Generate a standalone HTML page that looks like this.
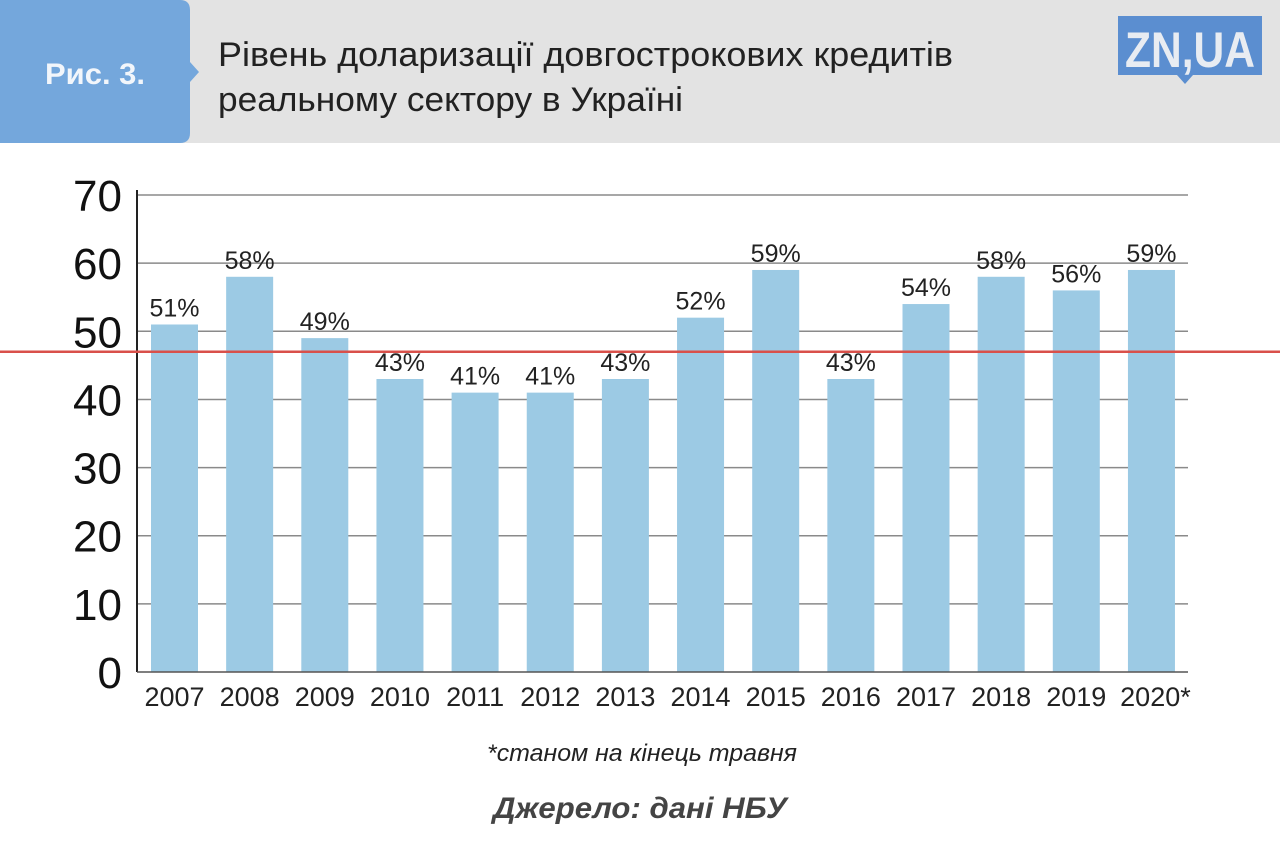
<!DOCTYPE html>
<html><head><meta charset="utf-8"><style>
body{margin:0;width:1280px;height:841px;background:#fff;overflow:hidden;font-family:"Liberation Sans","DejaVu Sans",sans-serif}
</style></head><body>
<svg width="1280" height="841" viewBox="0 0 1280 841" xmlns="http://www.w3.org/2000/svg">
<rect x="0" y="0" width="1280" height="143" fill="#e3e3e3"/>
<g>
<path d="M0 0 H180 Q190 0 190 10 V62 L199 72 L190 82 V133 Q190 143 180 143 H0 Z" fill="#74a7dc"/>
<text x="95" y="84" text-anchor="middle" font-size="30" font-weight="bold" fill="#f2f6fb" textLength="100" lengthAdjust="spacingAndGlyphs">Рис. 3.</text>
</g>
<g font-size="34" fill="#222">
<text x="218" y="66" textLength="735" lengthAdjust="spacingAndGlyphs">Рівень доларизації довгострокових кредитів</text>
<text x="218" y="111" textLength="465" lengthAdjust="spacingAndGlyphs">реальному сектору в Україні</text>
</g>
<g>
<rect x="1118" y="16" width="144" height="59" fill="#5b8ed0"/>
<path d="M1177 75 L1185 84 L1193 75 Z" fill="#5b8ed0"/>
<text x="1190" y="67" text-anchor="middle" font-size="50" font-weight="bold" fill="#e8ecf2" textLength="130" lengthAdjust="spacingAndGlyphs">ZN,UA</text>
</g>
<g id="grid"></g>
<g id="bars"></g>
<line x1="137" y1="190" x2="137" y2="672" stroke="#222" stroke-width="2"/>
<line x1="137" y1="672" x2="1188" y2="672" stroke="#555" stroke-width="1.5"/>
<line id="ref" x1="0" x2="1280" stroke="#d9504a" stroke-width="2.5"/>
<text x="642" y="761" text-anchor="middle" font-size="24" font-style="italic" fill="#222" textLength="310" lengthAdjust="spacingAndGlyphs">*станом на кінець травня</text>
<text x="640" y="818" text-anchor="middle" font-size="30" font-style="italic" font-weight="bold" fill="#444" textLength="294" lengthAdjust="spacingAndGlyphs">Джерело: дані НБУ</text>
</svg>
<script>
const categories=["2007","2008","2009","2010","2011","2012","2013","2014","2015","2016","2017","2018","2019","2020*"];
const values=[51,58,49,43,41,41,43,52,59,43,54,58,56,59];
const yTicks=[0,10,20,30,40,50,60,70];
const refValue=47;
const NS="http://www.w3.org/2000/svg";
const y=v=>672-v*6.814;
const x=i=>174.5+i*75.15;
const grid=document.getElementById('grid'),bars=document.getElementById('bars');
function mk(tag,attrs,parent,txt){const e=document.createElementNS(NS,tag);for(const k in attrs)e.setAttribute(k,attrs[k]);if(txt!==undefined)e.textContent=txt;parent.appendChild(e);return e;}
yTicks.forEach(t=>{
 if(t>0){const l=mk('line',{x1:137,x2:1188,y1:y(t),y2:y(t),stroke:'#8a8a8a','stroke-width':1.5},grid);
 
 }
 const tx=mk('text',{x:122,y:y(t)+16,'text-anchor':'end','font-size':44,fill:'#111'},grid,String(t));
 
 
});
values.forEach((v,i)=>{
 const r=mk('rect',{x:x(i)-23.5,y:y(v),width:47,height:672-y(v),fill:'#9ccae4'},bars);
 
 
 const lb=mk('text',{x:x(i),y:y(v)-8,'text-anchor':'middle','font-size':25,fill:'#222'},bars,v+'%');
 
 
 const xl=mk('text',{x:x(i)+(categories[i].length>4?4:0),y:706,'text-anchor':'middle','font-size':27,fill:'#222'},bars,categories[i]);
 
 
});
const ref=document.getElementById('ref');
ref.setAttribute('y1',y(refValue));ref.setAttribute('y2',y(refValue));
</script>
</body></html>
